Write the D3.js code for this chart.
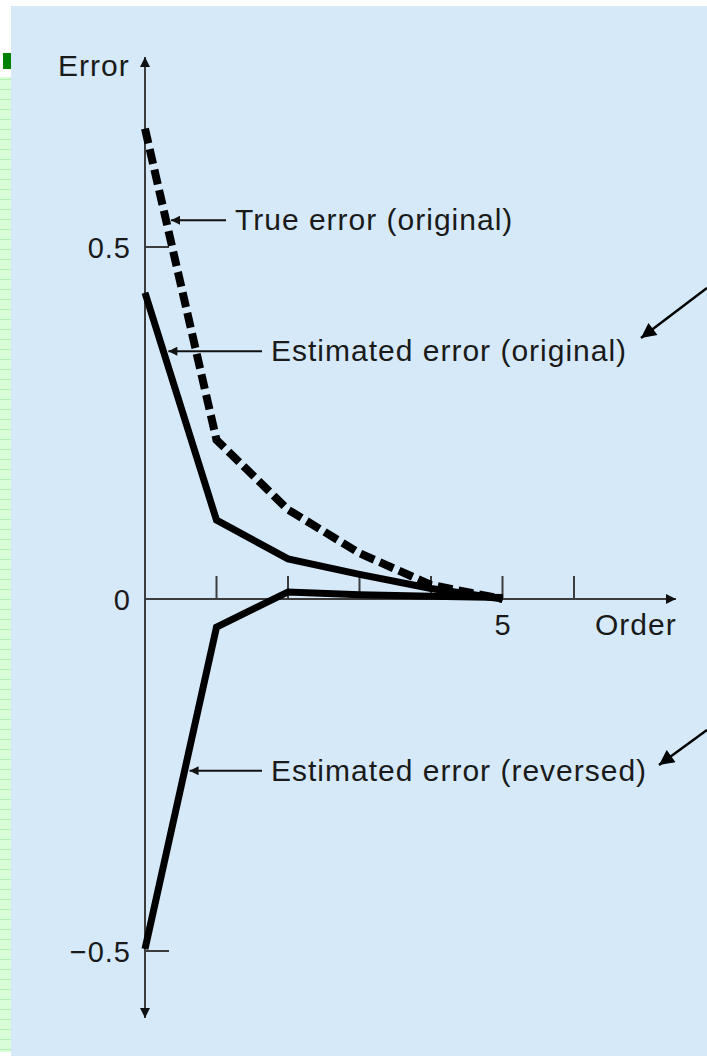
<!DOCTYPE html>
<html>
<head>
<meta charset="utf-8">
<script src="https://cdn.jsdelivr.net/npm/d3@7"></script>
<style>
  html, body { margin: 0; padding: 0; background: #ffffff; }
  svg { display: block; font-family: "Liberation Sans", Arial, Helvetica, sans-serif; }
</style>
</head>
<body>
<div id="chart"></div>
<script>
// values
const orders = [0, 1, 2, 3, 4, 5]
const trueErrorOriginal = [0.668, 0.226, 0.127, 0.065, 0.02, 0.0]
const estErrorOriginal = [0.435, 0.112, 0.057, 0.035, 0.015, 0.0]
const estErrorReversed = [-0.497, -0.04, 0.01, 0.006, 0.004, 0.002]

const xTicks = [1, 2, 3, 4, 5, 6]
const xTickLabels = {5: "5"}
const yTicks = [-0.5, 0, 0.5]
const yTickLabels = ["\u22120.5", "0", "0.5"]

const labels = [
    {text: "True error (original)", series: trueErrorOriginal, at: 0.538, tail: 226},
    {text: "Estimated error (original)", series: estErrorOriginal, at: 0.352, tail: 262},
    {text: "Estimated error (reversed)", series: estErrorReversed, at: -0.244, tail: 262}
]

const width = 707
const height = 1056

const x = d3.scaleLinear().domain([0, 6]).range([145, 574])
const y = d3.scaleLinear().domain([-0.5, 0.5]).range([951, 247])

const svg = d3.select("#chart")
    .append("svg")
    .attr("width", width)
    .attr("height", height)

const defs = svg.append("defs")

// green ruled strip on the left edge
const pat = defs.append("pattern")
    .attr("id", "ruled")
    .attr("patternUnits", "userSpaceOnUse")
    .attr("width", 11).attr("height", 10)
pat.append("rect").attr("width", 11).attr("height", 10).attr("fill", "#d9fcd9")
pat.append("line").attr("x1", 0).attr("x2", 11).attr("y1", 9.5).attr("y2", 9.5)
    .attr("stroke", "#b4f0b4").attr("stroke-width", 1)

function marker(id, w, h, color) {
    defs.append("marker")
        .attr("id", id)
        .attr("viewBox", "0 0 10 10")
        .attr("refX", 10).attr("refY", 5)
        .attr("markerUnits", "userSpaceOnUse")
        .attr("markerWidth", w).attr("markerHeight", h)
        .attr("orient", "auto")
      .append("path")
        .attr("d", "M0,0L10,5L0,10Z")
        .attr("fill", color)
}
marker("axishead", 16, 10, "#111")
marker("head", 14, 9, "#111")
marker("bighead", 21, 15, "#000")

svg.append("rect")
    .attr("x", 0).attr("y", 77).attr("width", 11).attr("height", 975)
    .attr("fill", "url(#ruled)")
svg.append("rect")
    .attr("x", 3).attr("y", 53).attr("width", 8).attr("height", 16)
    .attr("fill", "#008000")

// blue panel
svg.append("rect")
    .attr("x", 11).attr("y", 6).attr("width", width - 11).attr("height", height - 6)
    .attr("fill", "#d5e9f9")

const axisColor = "#3c3c3c"

// axes with arrow ends
svg.append("line")
    .attr("x1", x(0)).attr("x2", x(0))
    .attr("y1", y(0)).attr("y2", 57)
    .attr("stroke", axisColor).attr("stroke-width", 2)
    .attr("marker-end", "url(#axishead)")
svg.append("line")
    .attr("x1", x(0)).attr("x2", x(0))
    .attr("y1", y(0)).attr("y2", 1018)
    .attr("stroke", axisColor).attr("stroke-width", 2)
    .attr("marker-end", "url(#axishead)")
svg.append("line")
    .attr("x1", x(0)).attr("x2", 676)
    .attr("y1", y(0)).attr("y2", y(0))
    .attr("stroke", axisColor).attr("stroke-width", 2)
    .attr("marker-end", "url(#axishead)")

// x ticks point up
svg.selectAll(".xtick")
    .data(xTicks)
    .enter().append("line")
    .attr("class", "xtick")
    .attr("x1", d => x(d)).attr("x2", d => x(d))
    .attr("y1", y(0)).attr("y2", y(0) - 23)
    .attr("stroke", axisColor).attr("stroke-width", 2)

svg.selectAll(".xlabel")
    .data(xTicks.filter(d => xTickLabels[d]))
    .enter().append("text")
    .attr("class", "xlabel")
    .attr("x", d => x(d))
    .attr("y", y(0) + 36)
    .attr("text-anchor", "middle")
    .attr("font-size", 29)
    .attr("fill", "#1a1a1a")
    .text(d => xTickLabels[d])

// y ticks point right
svg.selectAll(".ytick")
    .data(yTicks.filter(d => d !== 0))
    .enter().append("line")
    .attr("class", "ytick")
    .attr("x1", x(0)).attr("x2", x(0) + 24)
    .attr("y1", d => y(d)).attr("y2", d => y(d))
    .attr("stroke", axisColor).attr("stroke-width", 2)

svg.selectAll(".ylabel")
    .data(yTicks)
    .enter().append("text")
    .attr("class", "ylabel")
    .attr("x", 131)
    .attr("y", d => y(d) + 11)
    .attr("text-anchor", "end")
    .attr("font-size", 29)
    .attr("letter-spacing", 1)
    .attr("fill", "#1a1a1a")
    .text((d, i) => yTickLabels[i])

svg.append("text")
    .attr("x", 58).attr("y", 76)
    .attr("font-size", 30).attr("letter-spacing", 1)
    .attr("fill", "#1a1a1a")
    .text("Error")

svg.append("text")
    .attr("x", 595).attr("y", y(0) + 36)
    .attr("font-size", 30).attr("letter-spacing", 1)
    .attr("fill", "#1a1a1a")
    .text("Order")

// series
const line = d3.line()
    .x((d, i) => x(orders[i]))
    .y(d => y(d))

svg.append("path")
    .datum(estErrorReversed)
    .attr("fill", "none").attr("stroke", "#000")
    .attr("stroke-width", 7).attr("stroke-linejoin", "miter")
    .attr("d", line)

svg.append("path")
    .datum(estErrorOriginal)
    .attr("fill", "none").attr("stroke", "#000")
    .attr("stroke-width", 7).attr("stroke-linejoin", "miter")
    .attr("d", line)

svg.append("path")
    .datum(trueErrorOriginal)
    .attr("fill", "none").attr("stroke", "#000")
    .attr("stroke-width", 8).attr("stroke-dasharray", "15,6")
    .attr("d", line)

// labels with arrows to the curve
function xOnSeries(series, v) {
    for (let i = 0; i < series.length - 1; i++) {
        const a = series[i], b = series[i + 1]
        if ((v - a) * (v - b) <= 0) {
            const t = (v - a) / (b - a)
            return orders[i] + t * (orders[i + 1] - orders[i])
        }
    }
    return orders[0]
}

labels.forEach(l => {
    const ly = y(l.at)
    const tip = x(xOnSeries(l.series, l.at)) + 5
    svg.append("line")
        .attr("x1", l.tail).attr("x2", tip)
        .attr("y1", ly).attr("y2", ly)
        .attr("stroke", "#111").attr("stroke-width", 2)
        .attr("marker-end", "url(#head)")
    svg.append("text")
        .attr("x", l.tail + 9).attr("y", ly + 10)
        .attr("font-size", 30).attr("letter-spacing", 1)
        .attr("fill", "#1a1a1a")
        .text(l.text)
})

// arrows coming in from the right edge
const pointers = [
    {from: [707, 288], to: [641, 338]},
    {from: [707, 730], to: [659, 765]}
]
svg.selectAll(".pointer")
    .data(pointers)
    .enter().append("line")
    .attr("class", "pointer")
    .attr("x1", d => d.from[0]).attr("y1", d => d.from[1])
    .attr("x2", d => d.to[0]).attr("y2", d => d.to[1])
    .attr("stroke", "#000").attr("stroke-width", 2.5)
    .attr("marker-end", "url(#bighead)")
</script>
</body>
</html>
